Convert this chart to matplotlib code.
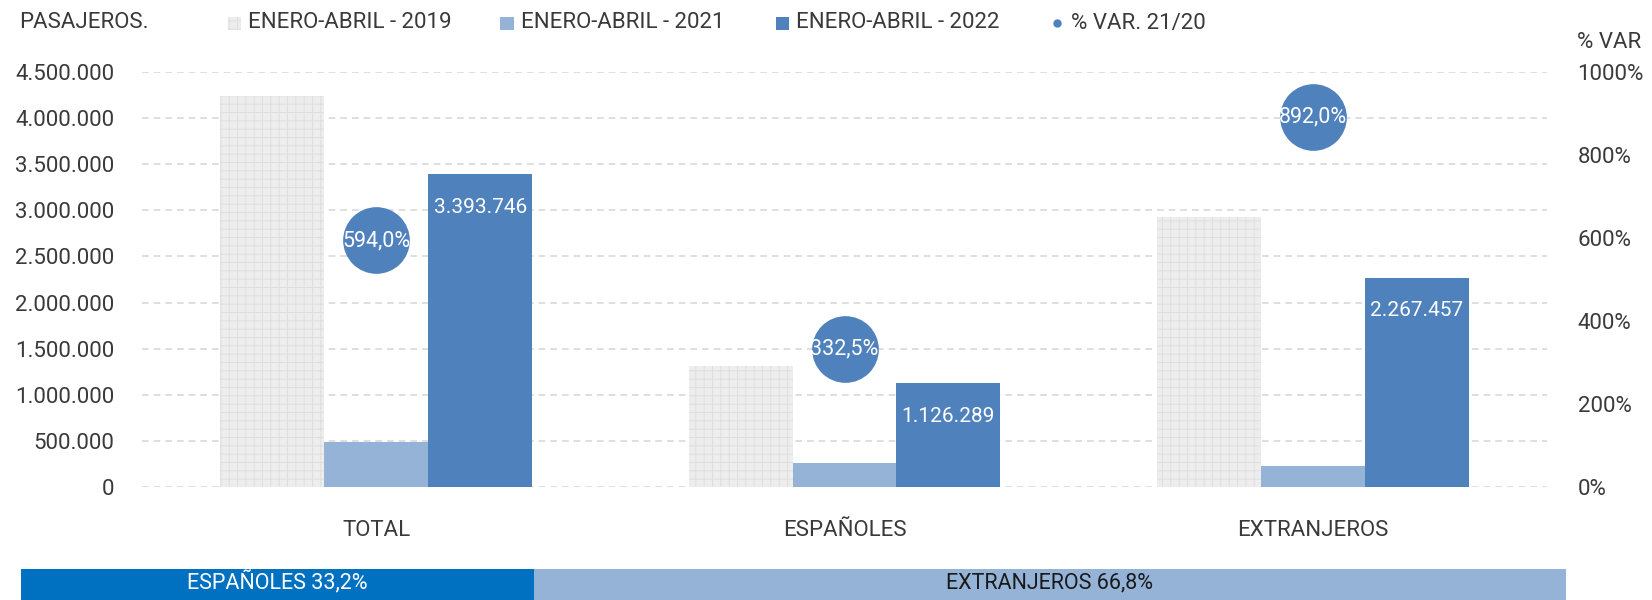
import matplotlib
matplotlib.use('Agg')
import matplotlib.pyplot as plt
from matplotlib.patches import Rectangle
from matplotlib.lines import Line2D
from matplotlib.ticker import FuncFormatter
import numpy as np

# data
categorias = ['TOTAL', 'ESPAÑOLES', 'EXTRANJEROS']
ene_abr_2019 = [4235000, 1310000, 2925000]
ene_abr_2021 = [489000, 260400, 228600]
ene_abr_2022 = [3393746, 1126289, 2267457]
var_pct = [594.0, 332.5, 892.0]
series_names = ['ENERO-ABRIL - 2019', 'ENERO-ABRIL - 2021', 'ENERO-ABRIL - 2022', '% VAR. 21/20']
cuota_labels = ['ESPAÑOLES', 'EXTRANJEROS']
cuota_pct = [33.2, 66.8]

plt.rcParams['font.family'] = ['Roboto', 'DejaVu Sans']
plt.rcParams['hatch.linewidth'] = 0.7
txt = '#3a3a3a'
c19 = '#EDEDED'
c21 = '#95B3D7'
c22 = '#4F81BD'
fs = 16

fig = plt.figure(figsize=(16.52, 6), dpi=100)
ax = fig.add_axes([142/1652, 113/600, 1405/1652, 415/600])

x = np.arange(len(categorias))
w = 0.222
ax.bar(x - w, ene_abr_2019, w, color=c19, edgecolor='#DEDEDE', hatch='++', linewidth=0)
ax.bar(x, ene_abr_2021, w, color=c21, linewidth=0)
ax.bar(x + w, ene_abr_2022, w, color=c22, linewidth=0)

fmt = lambda v: f'{v:,.0f}'.replace(',', '.')
for xi, v in zip(x, ene_abr_2022):
    ax.annotate(fmt(v), (xi + w, v), xytext=(0, -33), textcoords='offset pixels',
                ha='center', va='center', color='white', fontsize=15)

ax.set_xlim(-0.5, 2.5)
ax.set_ylim(0, 4500000)
ax.set_yticks(np.arange(0, 4500001, 500000))
ax.yaxis.set_major_formatter(FuncFormatter(lambda v, p: fmt(v)))
ax.set_xticks(x)
ax.set_xticklabels(categorias)
ax.tick_params(axis='y', length=0, pad=20, labelsize=fs, labelcolor=txt)
ax.tick_params(axis='x', length=0, pad=24, labelsize=fs, labelcolor=txt)
ax.grid(axis='y', color='#D9D9D9', linestyle=(0, (4, 3)), linewidth=1.2)
ax.set_axisbelow(True)
for s in ax.spines.values():
    s.set_visible(False)

ax2 = ax.twinx()
ax2.set_ylim(0, 1000)
ax2.set_yticks(np.arange(0, 1001, 200))
ax2.yaxis.set_major_formatter(FuncFormatter(lambda v, p: f'{v:.0f}%'))
ax2.tick_params(axis='y', length=0, pad=22, labelsize=fs, labelcolor=txt)
for s in ax2.spines.values():
    s.set_visible(False)
ax2.scatter(x, var_pct, s=47**2, color=c22, zorder=3)
for xi, v in zip(x, var_pct):
    ax2.text(xi, v, f'{v:.1f}%'.replace('.', ','), ha='center', va='center',
             color='white', fontsize=15.5, zorder=4)
fig.text(1577/1652, 1 - 42/600, '% VAR', ha='left', va='center', fontsize=fs, color=txt)

# legend row
fig.text(19/1652, 1 - 23/600, 'PASAJEROS.', ha='left', va='center', fontsize=fs, color=txt)
leg_x = [234, 507, 782, 1057]
styles = [dict(facecolor=c19, edgecolor='#DEDEDE', hatch='++', linewidth=0),
          dict(facecolor=c21, linewidth=0), dict(facecolor=c22, linewidth=0)]
for i, name in enumerate(series_names):
    lx = leg_x[i] / 1652
    if i < 3:
        fig.add_artist(Rectangle((lx - 6.5/1652, 1 - 29.5/600), 13/1652, 13/600,
                                 transform=fig.transFigure, **styles[i]))
    else:
        fig.add_artist(Line2D([lx], [1 - 23/600], marker='o', markersize=5, color=c22,
                              linestyle='none', transform=fig.transFigure))
    fig.text(lx + 14/1652, 1 - 23/600, name, ha='left', va='center', fontsize=fs, color=txt)

# strip with share
axs = fig.add_axes([21/1652, -4/600, 1545/1652, 35/600])
left = 0
for lab, p, c, tc in zip(cuota_labels, cuota_pct, ['#0070C0', c21], ['white', '#1a1a1a']):
    axs.barh(0, p, left=left, height=1, color=c)
    axs.text(left + p / 2, 0.1, f'{lab} {p:.1f}%'.replace('.', ','), ha='center', va='center',
             color=tc, fontsize=15.5)
    left += p
axs.set_xlim(0, 100)
axs.set_ylim(-0.5, 0.5)
axs.axis('off')

fig.savefig('out.png', dpi=100)
